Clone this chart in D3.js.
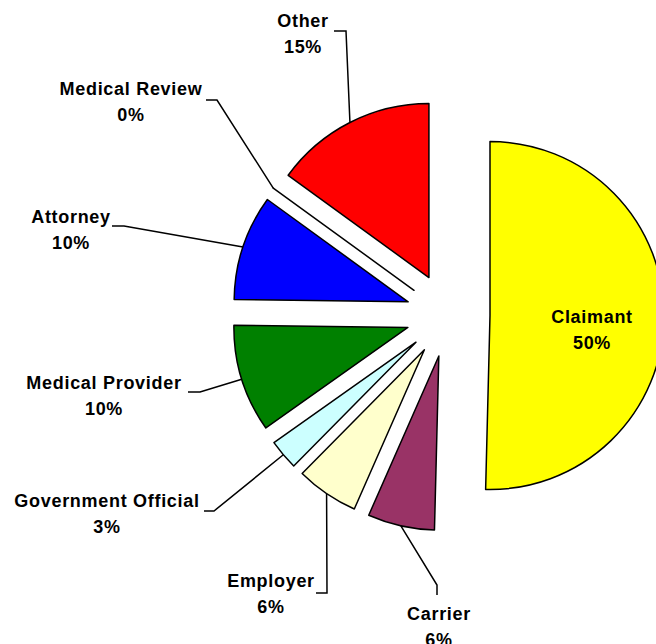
<!DOCTYPE html>
<html lang="en">
<head>
  <meta charset="UTF-8">
  <title>Who filed the request</title>
  <style>
    body { margin: 0; background: #fff; overflow: hidden; }
    .slice { stroke: #000; stroke-width: 1.5px; stroke-linejoin: round; }
    .leader { fill: none; stroke: #000; stroke-width: 1.5px; }
    .label { font-family: "Liberation Sans", Arial, sans-serif; font-weight: bold; font-size: 18px; letter-spacing: 0.7px; fill: #000; }
  </style>
</head>
<body>
  <script src="https://d3js.org/d3.v7.min.js"></script>
  <script>
    // slice data, clockwise from 12 o'clock
    const categories = ["Claimant", "Carrier", "Employer", "Government Official",
                        "Medical Provider", "Attorney", "Medical Review", "Other"];
    const shares = [50.4, 6.2, 5.8, 2.8, 10.0, 9.8, 0.0, 15.0];
    const sliceColors = ["#FFFF00", "#993366", "#FFFFCC", "#CCFFFF",
                         "#008000", "#0000FF", "#FFFFFF", "#FF0000"];

    // label layout (text centre, first baseline, leader elbow + end), same order as categories
    const labelLayout = [
      {x: 592, y: 323, inside: true},
      {x: 439, y: 620, elbow: [437, 585], end: [437, 595]},
      {x: 271, y: 587, elbow: [327, 593], end: [316, 593]},
      {x: 107, y: 507, elbow: [214, 511], end: [204, 511]},
      {x: 104, y: 389, elbow: [200, 392], end: [188, 392]},
      {x: 71,  y: 223, elbow: [124, 226], end: [112, 226]},
      {x: 131, y: 95,  elbow: [217, 100], end: [206, 100]},
      {x: 303, y: 27,  elbow: [346, 31],  end: [334, 31]}
    ];

    const width = 656, height = 644;
    const cx = 448, cy = 315;
    const radius = 174;
    const explode = 42;
    const lineGap = 25.5;

    const svg = d3.select("body").append("svg")
      .attr("width", width)
      .attr("height", height);

    const pie = d3.pie().sort(null).value(d => d);
    const arcs = pie(shares);

    const arc = d3.arc().innerRadius(0).outerRadius(radius);

    const total = d3.sum(shares);
    const pct = d3.format(".0%");

    // offset of each exploded slice along its bisector
    function offset(d) {
      const mid = (d.startAngle + d.endAngle) / 2;
      return [cx + explode * Math.sin(mid), cy - explode * Math.cos(mid)];
    }

    svg.append("g").selectAll("path")
      .data(arcs)
      .join("path")
      .attr("class", "slice")
      .attr("transform", d => `translate(${offset(d)})`)
      .attr("fill", (d, i) => sliceColors[i])
      .attr("d", arc);

    // leader lines from outer edge of each slice to its label
    const line = d3.line();
    svg.append("g").selectAll("path")
      .data(arcs.filter((d, i) => !labelLayout[i].inside))
      .join("path")
      .attr("class", "leader")
      .attr("d", d => {
        const i = d.index;
        const o = offset(d);
        const mid = (d.startAngle + d.endAngle) / 2;
        const p = [o[0] + radius * Math.sin(mid), o[1] - radius * Math.cos(mid)];
        return line([p, labelLayout[i].elbow, labelLayout[i].end]);
      });

    // labels
    const labels = svg.append("g").selectAll("text")
      .data(arcs)
      .join("text")
      .attr("class", "label")
      .attr("text-anchor", "middle")
      .attr("x", d => labelLayout[d.index].x)
      .attr("y", d => labelLayout[d.index].y);

    labels.append("tspan")
      .attr("x", d => labelLayout[d.index].x)
      .text(d => categories[d.index]);
    labels.append("tspan")
      .attr("x", d => labelLayout[d.index].x)
      .attr("dy", lineGap)
      .text(d => pct(d.data / total));
  </script>
</body>
</html>
